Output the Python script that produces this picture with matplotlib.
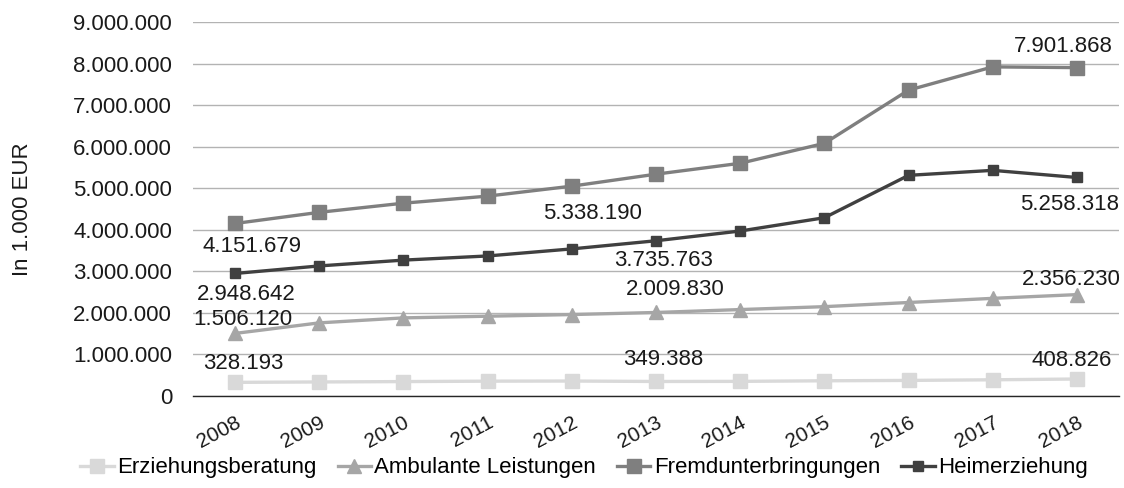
import numpy as np
import matplotlib
matplotlib.use("Agg")
import matplotlib.pyplot as plt

plt.rcParams['font.family'] = ['Liberation Sans', 'DejaVu Sans']

years = ['2008', '2009', '2010', '2011', '2012', '2013', '2014', '2015', '2016', '2017', '2018']
erziehungsberatung = [328193, 338000, 347000, 357000, 360000, 349388, 352000, 366000, 375000, 390000, 408826]
ambulante = [1506120, 1760000, 1880000, 1920000, 1960000, 2009830, 2080000, 2150000, 2250000, 2350000, 2440000]
fremd = [4151679, 4420000, 4640000, 4810000, 5050000, 5338190, 5600000, 6080000, 7360000, 7920000, 7901868]
heim = [2948642, 3130000, 3270000, 3370000, 3540000, 3735763, 3970000, 4290000, 5310000, 5430000, 5258318]

names = ['Erziehungsberatung', 'Ambulante Leistungen', 'Fremdunterbringungen', 'Heimerziehung']
colors = ['#d9d9d9', '#a6a6a6', '#7f7f7f', '#404040']
markers = ['s', '^', 's', 's']
msizes = [10, 10, 10, 7.7]

# (series, year index, label text, offset in pixels)
labels = [
    (2, 0, '4.151.679', (17, -23)),
    (3, 0, '2.948.642', (11, -21)),
    (1, 0, '1.506.120', (8, 14)),
    (0, 0, '328.193', (8, 19)),
    (2, 5, '5.338.190', (-63, -39)),
    (3, 5, '3.735.763', (8, -20)),
    (1, 5, '2.009.830', (19, 23)),
    (0, 5, '349.388', (7, 22)),
    (2, 10, '7.901.868', (-14, 21)),
    (3, 10, '5.258.318', (-7, -27)),
    (1, 10, '2.356.230', (-6, 15)),
    (0, 10, '408.826', (-5, 19)),
]

series = [erziehungsberatung, ambulante, fremd, heim]
x = np.arange(len(years))
fs = 16

fig = plt.figure(figsize=(11.24, 4.88), dpi=100)
ax = fig.add_axes([193 / 1124, 1 - 396 / 488, (1119 - 193) / 1124, (396 - 22) / 488])

for s, name, c, m, ms in zip(series, names, colors, markers, msizes):
    ax.plot(x, s, color=c, marker=m, markersize=ms, linewidth=2.4, label=name, zorder=3)

for si, i, txt, off in labels:
    ax.annotate(txt, (x[i], series[si][i]), xytext=off, textcoords='offset pixels',
                ha='center', va='center', fontsize=fs, color='#1a1a1a', zorder=4)

ax.set_xlim(-0.5, 10.5)
ax.set_ylim(0, 9000000)
ax.set_yticks(np.arange(0, 9000001, 1000000))
ax.set_yticklabels(['{:,}'.format(v).replace(',', '.') for v in range(0, 9000001, 1000000)])
ax.set_xticks(x)
ax.set_xticklabels(years, rotation=28, ha='right', va='top', rotation_mode='anchor')
ax.tick_params(axis='y', length=0, pad=15, labelsize=fs, labelcolor='#1a1a1a')
ax.tick_params(axis='x', length=0, pad=12, labelsize=15, labelcolor='#1a1a1a')
ax.grid(axis='y', color='#b3b3b3', linewidth=1)
ax.set_axisbelow(True)
for sp in ['top', 'right', 'left']:
    ax.spines[sp].set_visible(False)
ax.spines['bottom'].set_color('#262626')
ax.spines['bottom'].set_linewidth(1)
ax.set_ylabel('In 1.000 EUR', fontsize=fs, color='#1a1a1a')
ax.yaxis.set_label_coords(-0.173, 0.5)

fig.legend(loc='center', bbox_to_anchor=(584 / 1124, 1 - 468 / 488), ncol=4, frameon=False,
           fontsize=fs, handlelength=1.5, handletextpad=0.15, columnspacing=0.95)

fig.savefig('out.png', dpi=100)
